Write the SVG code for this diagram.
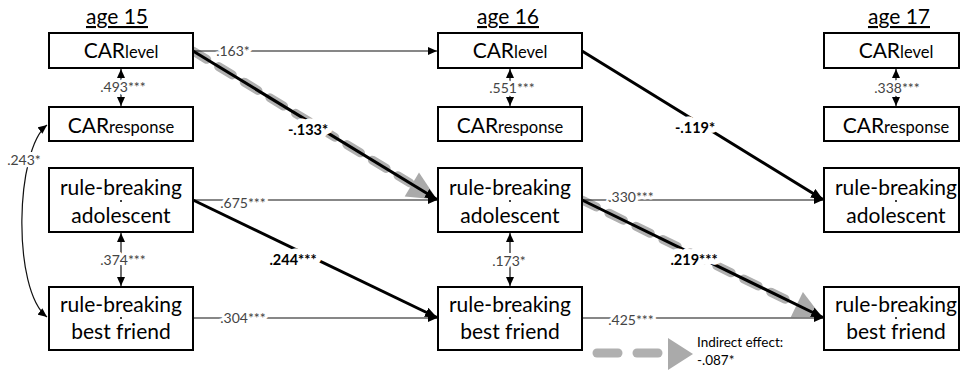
<svg xmlns="http://www.w3.org/2000/svg" width="961" height="371" viewBox="0 0 961 371">
<style>
.box{fill:#fff;stroke:#000;stroke-width:2}
.t{font-family:Lato,"Liberation Sans",sans-serif;font-size:21px;fill:#000;text-anchor:middle}
.sub{font-size:16.5px}
.ttl{font-family:Lato,"Liberation Sans",sans-serif;font-size:21px;fill:#000;text-anchor:middle;text-decoration:underline}
.lab{font-family:Lato,"Liberation Sans",sans-serif;font-size:14px;fill:#444;text-anchor:middle;stroke:#fff;stroke-width:6;stroke-linejoin:round;paint-order:stroke}
.blab{font-family:Lato,"Liberation Sans",sans-serif;font-size:14.5px;font-weight:bold;fill:#000;text-anchor:middle;stroke:#fff;stroke-width:11;stroke-linejoin:round;paint-order:stroke}
.leg{font-family:Lato,"Liberation Sans",sans-serif;font-size:13.5px;fill:#000}
.thin{stroke:#111;stroke-width:1.2;fill:none}
.thick{stroke:#000;stroke-width:3;fill:none}
.grey{stroke:#b0b0b0;stroke-width:9;stroke-linecap:round;stroke-dasharray:16 14;fill:none}
.gtri{fill:#aaa}
.dot{fill:#000}
</style>
<defs>
<marker id="a" markerUnits="userSpaceOnUse" markerWidth="9" markerHeight="8" refX="9" refY="4" orient="auto-start-reverse"><path d="M0,0 L9,4 L0,8 z" fill="#000"/></marker>
<marker id="ab" markerUnits="userSpaceOnUse" markerWidth="12" markerHeight="10" refX="12" refY="5" orient="auto"><path d="M0,0 L12,5 L0,10 z" fill="#000"/></marker>
</defs>

<g id="titles">
<text class="ttl" x="117" y="24">age 15</text>
<text class="ttl" x="508" y="24">age 16</text>
<text class="ttl" x="899" y="24">age 17</text>
</g>

<g id="connectors">
<path class="grey" d="M193,51 L410,183"/>
<polygon class="gtri" points="437,199.5 419,172.5 404.7,196.5"/>
<path class="grey" d="M582,200 L795,304"/>
<polygon class="gtri" points="822,317 802.9,292.1 790.7,317.3"/>
<path class="thin" d="M193,51 H437" marker-end="url(#a)"/>
<path class="thin" d="M193,200 H437" marker-end="url(#a)"/>
<path class="thin" d="M193,318 H437" marker-end="url(#a)"/>
<path class="thin" d="M582,200 H823" marker-end="url(#a)"/>
<path class="thin" d="M582,318 H823" marker-end="url(#a)"/>
<path class="thin" d="M121,69 V106" marker-start="url(#a)" marker-end="url(#a)"/>
<path class="thin" d="M121,233 V286" marker-start="url(#a)" marker-end="url(#a)"/>
<path class="thin" d="M510,69 V106" marker-start="url(#a)" marker-end="url(#a)"/>
<path class="thin" d="M510,233 V286" marker-start="url(#a)" marker-end="url(#a)"/>
<path class="thin" d="M896,69 V106" marker-start="url(#a)" marker-end="url(#a)"/>
<path class="thin" d="M47,125 C15,150 12,290 47,317" marker-start="url(#a)" marker-end="url(#a)"/>
<path class="thick" d="M193,51 L437,199.5" marker-end="url(#ab)"/>
<path class="thick" d="M582,51 L823,199.5" marker-end="url(#ab)"/>
<path class="thick" d="M193,200 L437,317.5" marker-end="url(#ab)"/>
<path class="thick" d="M582,200 L823,317.5" marker-end="url(#ab)"/>
<text class="lab" x="233" y="56">.163*</text>
<text class="lab" x="243" y="208">.675***</text>
<text class="lab" x="243" y="323">.304***</text>
<text class="lab" x="631" y="202">.330***</text>
<text class="lab" x="631" y="325">.425***</text>
<text class="lab" x="123" y="92">.493***</text>
<text class="lab" x="123" y="265">.374***</text>
<text class="lab" x="512" y="93">.551***</text>
<text class="lab" x="509" y="266">.173*</text>
<text class="lab" x="897" y="93">.338***</text>
<text class="lab" x="24" y="165">.243*</text>
<text class="blab" x="308" y="135">-.133*</text>
<text class="blab" x="695" y="133">-.119*</text>
<text class="blab" x="293" y="265">.244***</text>
<text class="blab" x="694" y="265">.219***</text>
</g>

<g id="car15-level"><rect class="box" x="49" y="33" width="144" height="35"/><text class="t" x="121" y="58">CAR<tspan class="sub">level</tspan></text></g>
<g id="car15-response"><rect class="box" x="49" y="107" width="144" height="34"/><text class="t" x="121" y="133">CAR<tspan class="sub">response</tspan></text></g>
<g id="rb15-adolescent"><rect class="box" x="49" y="168" width="144" height="64"/><text class="t" x="121" y="195">rule-breaking</text><circle class="dot" cx="121" cy="201" r="1"/><text class="t" x="121" y="223">adolescent</text></g>
<g id="rb15-friend"><rect class="box" x="49" y="287" width="144" height="63"/><text class="t" x="121" y="312">rule-breaking</text><circle class="dot" cx="121" cy="318" r="1"/><text class="t" x="121" y="339">best friend</text></g>

<g id="car16-level"><rect class="box" x="438" y="33" width="144" height="35"/><text class="t" x="510" y="58">CAR<tspan class="sub">level</tspan></text></g>
<g id="car16-response"><rect class="box" x="438" y="107" width="144" height="34"/><text class="t" x="510" y="133">CAR<tspan class="sub">response</tspan></text></g>
<g id="rb16-adolescent"><rect class="box" x="438" y="168" width="144" height="64"/><text class="t" x="510" y="195">rule-breaking</text><circle class="dot" cx="510" cy="201" r="1"/><text class="t" x="510" y="223">adolescent</text></g>
<g id="rb16-friend"><rect class="box" x="438" y="287" width="144" height="63"/><text class="t" x="510" y="312">rule-breaking</text><circle class="dot" cx="510" cy="318" r="1"/><text class="t" x="510" y="339">best friend</text></g>

<g id="car17-level"><rect class="box" x="824" y="33" width="135" height="35"/><text class="t" x="896" y="58">CAR<tspan class="sub">level</tspan></text></g>
<g id="car17-response"><rect class="box" x="824" y="107" width="135" height="34"/><text class="t" x="896" y="133">CAR<tspan class="sub">response</tspan></text></g>
<g id="rb17-adolescent"><rect class="box" x="824" y="168" width="135" height="64"/><text class="t" x="896" y="195">rule-breaking</text><circle class="dot" cx="896" cy="201" r="1"/><text class="t" x="896" y="223">adolescent</text></g>
<g id="rb17-friend"><rect class="box" x="824" y="287" width="135" height="63"/><text class="t" x="896" y="312">rule-breaking</text><circle class="dot" cx="896" cy="318" r="1"/><text class="t" x="896" y="339">best friend</text></g>

<g id="legend">
<line x1="597" y1="353" x2="618" y2="353" stroke="#b0b0b0" stroke-width="9" stroke-linecap="round"/>
<line x1="637" y1="353" x2="658" y2="353" stroke="#b0b0b0" stroke-width="9" stroke-linecap="round"/>
<polygon class="gtri" points="668,338 693,354 668,370"/>
<text class="leg" x="697" y="347">Indirect effect:</text>
<text class="leg" x="697" y="365">-.087*</text>
</g>
</svg>
